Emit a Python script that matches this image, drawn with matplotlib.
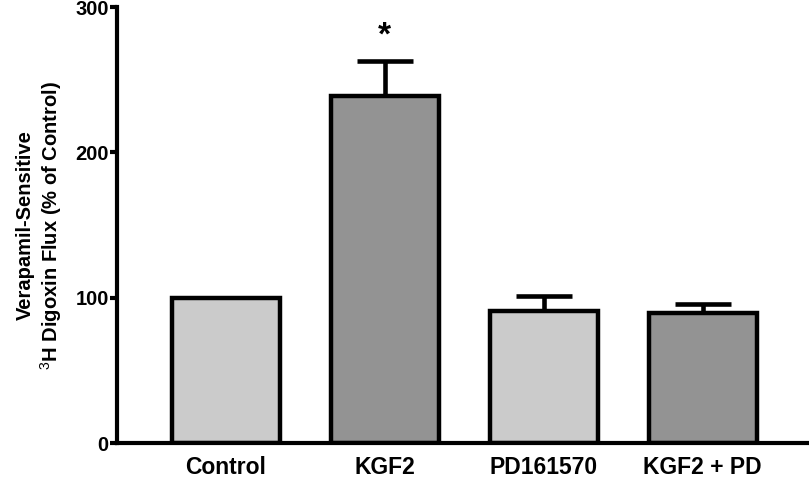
import numpy as np
import matplotlib.pyplot as plt

# data
groups = ['Control', 'KGF2', 'PD161570', 'KGF2 + PD']
flux = [100, 239, 91, 89.5]
sem = [0, 24, 10, 6.5]
colors = ['#cbcbcb', '#939393', '#cbcbcb', '#939393']

plt.rcParams['font.family'] = ['Liberation Sans', 'DejaVu Sans']
plt.rcParams['mathtext.fontset'] = 'custom'
plt.rcParams['mathtext.rm'] = 'Liberation Sans'
plt.rcParams['mathtext.bf'] = 'Liberation Sans:bold'

fig = plt.figure(figsize=(8.09, 4.87), dpi=100)
ax = fig.add_axes([0.1446, 0.0903, 0.8554, 0.8953])

x = np.arange(len(groups))
ax.errorbar(x, flux, yerr=[np.zeros(len(sem)), sem], fmt='none', ecolor='black',
            elinewidth=3.3, capsize=20, capthick=3.3, zorder=1)
ax.bar(x, flux, width=0.68, color=colors, edgecolor='black', linewidth=3.2, zorder=2)

ax.text(1, 280, '*', ha='center', va='center', fontsize=24, fontweight='bold')

ax.set_xlim(-0.686, 3.67)
ax.set_ylim(0, 300)
ax.set_yticks([0, 100, 200, 300])
ax.set_xticks(x)
ax.set_xticklabels(groups, fontsize=16.5, fontweight='bold')
for lab in ax.get_yticklabels():
    lab.set_fontsize(14.5)
    lab.set_fontweight('bold')

ax.spines['top'].set_visible(False)
ax.spines['right'].set_visible(False)
ax.spines['left'].set_linewidth(3)
ax.spines['bottom'].set_linewidth(3)
ax.tick_params(axis='y', direction='out', length=5, width=3, pad=1)
ax.tick_params(axis='x', length=0, pad=9)

ax.set_ylabel('Verapamil-Sensitive\n$^{3}$H Digoxin Flux (% of Control)',
              fontsize=14.5, fontweight='bold', labelpad=8, linespacing=1.15)

fig.savefig('out.png', dpi=100)
